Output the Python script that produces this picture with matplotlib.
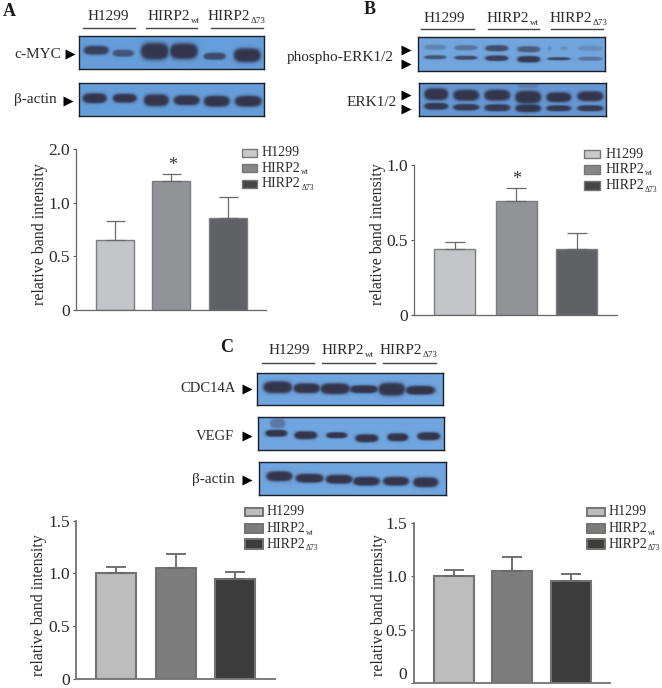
import matplotlib
matplotlib.use("Agg")
import matplotlib.pyplot as plt
import numpy as np
from matplotlib.patches import Rectangle

W, H = 662, 688
DPI = 100
SERIF = "Liberation Serif"

# bar values, read on each panel's own y axis
a_values = [0.65, 1.20, 0.855]
a_errors = [0.18, 0.07, 0.195]
b_values = [0.44, 0.758, 0.44]
b_errors = [0.05, 0.089, 0.11]
c1_values = [1.008, 1.056, 0.952]
c1_errors = [0.052, 0.124, 0.066]
c2_values = [1.006, 1.053, 0.953]
c2_errors = [0.05, 0.125, 0.066]

# panel A has an uneven axis: tick 2.0 sits one step above 1.0
a_tick_labels = ["0", "0.5", "1.0", "2.0"]
b_tick_labels = ["0", "0.5", "1.0"]
c_tick_labels = ["0", "0.5", "1.0", "1.5"]

groups = ["H1299", "HIRP2", "HIRP2"]
group_subs = ["", "wt", "\u039473"]
ylabel = "relative band intensity"

LIGHT = ["#c3c5c8", "#929396", "#606165"]
DARK = ["#bdbdbd", "#7d7d7d", "#3c3c3c"]

# blot bands: x0, x1, y centre, height, darkness (page pixels)
myc_bands = [(83, 108, 50, 9, .9), (112, 133, 53, 7, .7), (140, 168, 51, 17, 1), (169, 197, 51, 16, 1),
             (203, 225, 56, 7, .8), (233, 260, 55, 14, 1)]
actin_a_bands = [(82, 106, 98, 10, 1), (112, 136, 98, 9, 1), (143, 168, 100, 12, 1), (173, 199, 100, 10, 1),
                 (203, 229, 101, 11, 1), (234, 261, 101, 11, 1)]
perk_bands = [(424, 446, 47, 5, .3), (454, 477, 47.5, 5, .45), (485, 508, 48, 6, .8), (517, 540, 49, 6, .65),
              (547, 552, 48, 4, .2), (560, 568, 48, 4, .2), (578, 602, 48, 5, .22),
              (424, 446, 57, 4, .7), (454, 477, 57.5, 4, .8), (485, 508, 58, 5.5, .9), (517, 540, 59, 6.5, .95),
              (547, 570, 58.5, 3, .85), (578, 602, 58.5, 4, .45)]
erk_bands = [(424, 448, 94, 12, 1), (453, 479, 95, 11, 1), (484, 510, 95, 11, 1), (515, 541, 97, 13, 1),
             (546, 571, 97, 10, 1), (577, 603, 96, 10, 1),
             (424, 448, 106, 7, .95), (453, 479, 107, 6.5, .95), (484, 510, 107.5, 7, .95), (515, 541, 108, 8, 1),
             (546, 571, 108, 6, .95), (577, 603, 108, 6, .95), (517, 539, 85, 6, .25)]
cdc_bands = [(263, 292, 387, 12, 1), (293, 320, 388, 10, 1), (320, 350, 388.5, 11, 1), (349, 378, 389, 8, 1),
             (378, 405, 389, 13, 1), (405, 435, 390, 9, 1)]
vegf_bands = [(265, 287, 433, 7, 1), (294, 317, 435, 8, 1), (326, 347, 435, 6, 1), (355, 378, 438, 8, 1),
              (387, 408, 437, 8, 1), (417, 440, 436, 8, 1), (270, 285, 423, 10, .4)]
actin_c_bands = [(266, 292, 476, 10, 1), (295, 323, 478, 9, 1), (325, 352, 479, 9, 1), (352, 379, 481, 9, 1),
                 (382, 408, 481, 9, 1), (412, 437, 482, 10, 1)]

BLUE_A = (0.40, 0.62, 0.86)
BLUE_B = (0.45, 0.65, 0.87)
BLUE_ERK = (0.40, 0.60, 0.84)
BLUE_C = (0.44, 0.65, 0.88)
BAND = (0.20, 0.21, 0.30)


fig = plt.figure(figsize=(W / DPI, H / DPI), dpi=DPI, facecolor="white")
plt.rcParams["font.family"] = [SERIF, "DejaVu Serif"]


def px_axes(x0, y0, x1, y1, **kwargs):
    return fig.add_axes([x0 / W, 1 - y1 / H, (x1 - x0) / W, (y1 - y0) / H], **kwargs)


page = px_axes(0, 0, W, H, zorder=5)
page.set_xlim(0, W)
page.set_ylim(H, 0)
page.axis("off")
renderer = fig.canvas.get_renderer()


def draw_blot(x0, y0, x1, y1, bands, blue):
    ax = px_axes(x0, y0, x1, y1)
    xs, ys = np.meshgrid(np.arange(x0, x1, 0.5), np.arange(y0, y1, 0.5))
    cover = np.zeros_like(xs)
    for bx0, bx1, yc, h, dark in bands:
        dist = (np.abs(xs - (bx0 + bx1) / 2) / ((bx1 - bx0) / 2)) ** 4 + (np.abs(ys - yc) / (h / 2)) ** 2
        cover = np.maximum(cover, dark / (1 + dist ** 4))
    img = np.zeros(xs.shape + (3,))
    for i in range(3):
        img[..., i] = blue[i] * (1 - cover) + BAND[i] * cover
    ax.imshow(img, extent=(x0, x1, y1, y0), aspect="auto", interpolation="bilinear")
    ax.set_xticks([])
    ax.set_yticks([])
    for spine in ax.spines.values():
        spine.set_linewidth(1.0)
        spine.set_color("#1c2026")


def label_sub(x, y, main, sub, size=11, sub_size=6.5, color="#2a2a2a"):
    t = page.text(x, y, main, fontsize=size, va="center", ha="left", color=color)
    if sub:
        box = t.get_window_extent(renderer)
        page.text(box.x1 + 0.5, y + size * 0.42, sub, fontsize=sub_size, va="center", ha="left", color=color)


def group_header(text_xs, line_spans, text_y, line_y, size=11):
    for x, main, sub in zip(text_xs, groups, group_subs):
        label_sub(x, text_y, main, sub, size=size)
    for x0, x1 in line_spans:
        page.plot([x0, x1], [line_y, line_y], color="#444444", lw=1.0)


def arrow(x, y, size=7.6):
    page.plot([x], [y], marker=">", ms=size, color="black", mec="none", ls="none")


def bar_chart(x0, ytop, ybot, x1, centers, width, values, errors, tick_labels, top_value, colors,
              edge, label_x, label_y, line=1.0, lift_zero=False):
    ax = px_axes(x0, ytop, x1, ybot)
    ax.set_xlim(x0, x1)
    ax.set_ylim(0, top_value)
    ax.bar(centers, values, width=width, color=colors, edgecolor=edge, linewidth=line)
    ax.errorbar(centers, values, yerr=[[0] * len(values), errors], fmt="none", ecolor="#6a6a6a",
                elinewidth=line * 0.9, capsize=width * 0.18, capthick=line * 0.9, zorder=1)
    ax.set_xticks([])
    ticks = np.linspace(0, top_value, len(tick_labels))
    ax.set_yticks(ticks, tick_labels)
    ax.tick_params(axis="y", length=2.5, width=0.8, color="#555555", pad=2, labelsize=12.5, labelcolor="#2a2a2a")
    if lift_zero:
        ax.get_yticklabels()[0].set_verticalalignment("bottom")
    ax.spines[["top", "right"]].set_visible(False)
    ax.spines[["left", "bottom"]].set_color("#666666" if line <= 1 else "#777777")
    ax.spines[["left", "bottom"]].set_linewidth(line * 0.9)
    ax.patch.set_alpha(0)
    page.text(label_x, label_y, ylabel, rotation=90, fontsize=11.5, ha="center", va="center", color="#2a2a2a")


def legend(x0, x1, text_x, y_rows, colors, edge, size=10, line=1.0):
    for (y0, y1), color, main, sub in zip(y_rows, colors, groups, group_subs):
        page.add_patch(Rectangle((x0, y0), x1 - x0, y1 - y0, facecolor=color, edgecolor=edge, lw=line))
        label_sub(text_x, (y0 + y1) / 2, main, sub, size=size, sub_size=5.5)


# panel A
page.text(3, 11, "A", fontsize=13, fontweight="bold", va="center", color="#1a1a1a")
group_header([88, 148, 208], [(83, 135), (146, 197), (211, 263)], 16.5, 28)
draw_blot(78.5, 36, 263.5, 69, myc_bands, BLUE_A)
draw_blot(78.5, 83, 263.5, 116, actin_a_bands, BLUE_A)
page.text(14, 54, "c-MYC", fontsize=11, va="center", color="#2a2a2a")
arrow(69.5, 53.5)
page.text(14, 100, "\u03b2-actin", fontsize=11, va="center", color="#2a2a2a")
arrow(68, 100.5)
bar_chart(76, 149, 310, 266, [114.5, 171, 228], 38, a_values, a_errors, a_tick_labels, 1.5, LIGHT, "#7c7d80",
          40, 234)
page.text(173, 165, "*", fontsize=13, ha="center", va="center", color="#333333")
legend(242, 257, 262, [(149, 157), (164, 172), (179.5, 188)], ["#c8c9c8", "#858685", "#454647"], "#777777")

# panel B
page.text(364, 10, "B", fontsize=13, fontweight="bold", va="center", color="#1a1a1a")
group_header([424, 487, 550], [(421, 474), (488, 539), (551, 603)], 18.5, 29)
draw_blot(418, 37, 605, 71, perk_bands, BLUE_B)
draw_blot(419, 83, 606, 116, erk_bands, BLUE_ERK)
page.text(394, 57, "phospho-ERK1/2", fontsize=11, va="center", ha="right", color="#2a2a2a")
arrow(405.5, 49.5)
arrow(405.5, 63.5)
page.text(397, 102, "ERK1/2", fontsize=11, va="center", ha="right", color="#2a2a2a")
arrow(405.5, 95)
arrow(405.5, 109)
bar_chart(414, 165, 315, 617, [454.5, 516, 576.5], 41, b_values, b_errors, b_tick_labels, 1.0, LIGHT, "#7c7d80",
          378, 234)
page.text(517, 179, "*", fontsize=13, ha="center", va="center", color="#333333")
legend(584, 600, 605.5, [(150, 158), (165, 173.5), (181, 190)], ["#c8c9c8", "#858685", "#454647"], "#777777")

# panel C
page.text(220, 348, "C", fontsize=13, fontweight="bold", va="center", color="#1a1a1a")
group_header([269, 322, 380], [(262, 314), (322, 375), (383, 436)], 350, 362.5)
draw_blot(257, 373, 443, 405, cdc_bands, BLUE_C)
draw_blot(258, 417, 444, 450, vegf_bands, BLUE_C)
draw_blot(259, 462, 446, 495, actin_c_bands, BLUE_C)
page.text(236, 388, "CDC14A", fontsize=10.5, va="center", ha="right", color="#2a2a2a")
arrow(246.5, 388.5)
page.text(234, 436, "VEGF", fontsize=10.5, va="center", ha="right", color="#2a2a2a")
arrow(246.5, 435.5)
page.text(235, 479, "\u03b2-actin", fontsize=11, va="center", ha="right", color="#2a2a2a")
arrow(246.5, 480)

# bottom charts
bar_chart(76, 520.7, 679, 275, [116, 175.5, 235], 40, c1_values, c1_errors, c_tick_labels, 1.5, DARK, "#70746f",
          39, 605.5, line=1.5)
legend(245, 263, 266.5, [(508, 515.7), (524, 533), (539, 549)], ["#bcbcbc", "#7c7c7c", "#3c3c3c"], "#70746f", line=1.4)
bar_chart(413.5, 523, 683, 610, [454, 512, 571], 40, c2_values, c2_errors, c_tick_labels, 1.5, DARK, "#70746f",
          379, 605, line=1.5, lift_zero=True)
legend(587, 605, 608.5, [(508, 515.7), (524, 533), (539, 549)], ["#bcbcbc", "#7c7c7c", "#3c3c3c"], "#70746f", line=1.4)

fig.savefig("out.png", dpi=DPI)
